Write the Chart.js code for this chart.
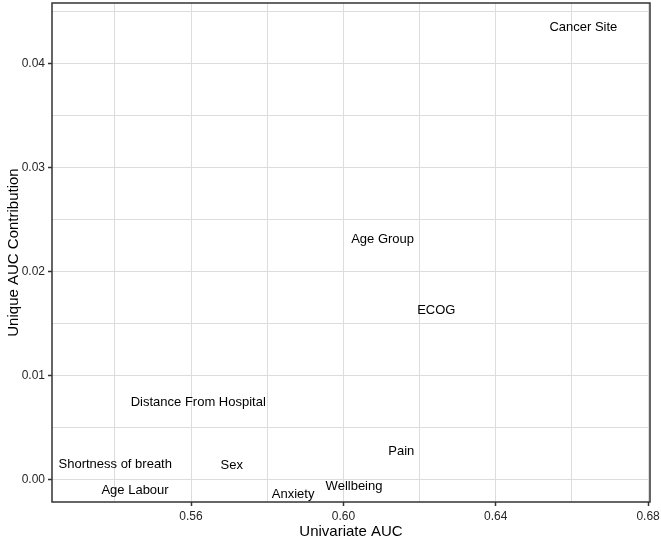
<!DOCTYPE html>
<html>
<head>
<meta charset="utf-8">
<script src="https://cdn.jsdelivr.net/npm/chart.js@4/dist/chart.umd.min.js"></script>
<style>
  html, body { margin: 0; padding: 0; background: #ffffff; }
  #wrap { width: 661px; height: 539px; }
</style>
</head>
<body>
<div id="wrap"><canvas id="c" width="661" height="539"></canvas></div>
<script>
// ---- data ----
const variables = ["Cancer Site", "Age Group", "ECOG", "Distance From Hospital", "Pain",
                   "Shortness of breath", "Sex", "Wellbeing", "Age Labour", "Anxiety"];
const univariateAUC = [0.663, 0.6103, 0.6244, 0.5619, 0.6152,
                       0.5401, 0.5707, 0.6028, 0.5453, 0.5868];
const uniqueContribution = [0.0436, 0.0232, 0.01635, 0.0075, 0.00279,
                            0.00154, 0.0015, -0.00055, -0.0009, -0.00129];

const xTickValues = [0.54, 0.56, 0.58, 0.60, 0.62, 0.64, 0.66, 0.68];
const xTickLabels = ["", "0.56", "", "0.60", "", "0.64", "", "0.68"];
const yTickValues = [0.000, 0.005, 0.010, 0.015, 0.020, 0.025, 0.030, 0.035, 0.040, 0.045];
const yTickLabels = ["0.00", "", "0.01", "", "0.02", "", "0.03", "", "0.04", ""];

const xRange = [0.5235, 0.6805];
const yRange = [-0.00218, 0.0458];

const points = univariateAUC.map((x, i) => ({ x: x, y: uniqueContribution[i] }));

const FONT = "'Liberation Sans', Arial, Helvetica, sans-serif";
const GRID = '#dcdcdc';
const AXIS = '#333333';

const textLabels = {
  id: 'textLabels',
  afterDatasetsDraw(chart) {
    const ctx = chart.ctx;
    const xs = chart.scales.x, ys = chart.scales.y;
    ctx.save();
    ctx.font = '13px ' + FONT;
    ctx.fillStyle = '#000000';
    ctx.textAlign = 'center';
    ctx.textBaseline = 'middle';
    chart.data.datasets[0].data.forEach((p, i) => {
      ctx.fillText(variables[i], xs.getPixelForValue(p.x), ys.getPixelForValue(p.y) + 1.5);
    });
    ctx.restore();
  }
};

const frame = {
  id: 'frame',
  afterDraw(chart) {
    const a = chart.chartArea, ctx = chart.ctx;
    ctx.save();
    ctx.strokeStyle = AXIS;
    ctx.lineWidth = 1.5;
    ctx.strokeRect(a.left, a.top, a.right - a.left, a.bottom - a.top);
    ctx.restore();
  }
};

function setTicks(values) {
  return function (scale) {
    scale.ticks = values.map(v => ({ value: v }));
  };
}

new Chart(document.getElementById('c'), {
  type: 'scatter',
  data: {
    datasets: [{
      data: points,
      pointRadius: 0,
      pointHoverRadius: 0,
      showLine: false
    }]
  },
  options: {
    responsive: false,
    animation: false,
    events: [],
    layout: { padding: { top: 3, right: 11, left: 0, bottom: 0 } },
    plugins: { legend: { display: false }, tooltip: { enabled: false } },
    scales: {
      x: {
        type: 'linear',
        min: xRange[0],
        max: xRange[1],
        afterBuildTicks: setTicks(xTickValues),
        afterFit(scale) { scale.height = 37; scale.paddingLeft = 0; scale.paddingRight = 0; },
        grid: {
          color: GRID,
          lineWidth: 1,
          tickLength: 4,
          tickWidth: 1.5,
          tickColor: (c) => (c.tick && xTickLabels[xTickValues.indexOf(c.tick.value)] !== '' ? AXIS : 'rgba(0,0,0,0)')
        },
        border: { display: false },
        ticks: {
          autoSkip: false,
          maxRotation: 0,
          padding: 3,
          color: '#262626',
          font: { family: FONT, size: 12 },
          callback: (v, i) => xTickLabels[i]
        },
        title: {
          display: true,
          text: 'Univariate AUC',
          color: '#000000',
          font: { family: FONT, size: 15 },
          padding: { top: 0, bottom: -2 }
        }
      },
      y: {
        type: 'linear',
        min: yRange[0],
        max: yRange[1],
        afterBuildTicks: setTicks(yTickValues),
        afterFit(scale) { scale.width = 52; scale.paddingTop = 0; scale.paddingBottom = 0; },
        grid: {
          color: GRID,
          lineWidth: 1,
          tickLength: 4,
          tickWidth: 1.5,
          tickColor: (c) => (c.tick && yTickLabels[yTickValues.indexOf(c.tick.value)] !== '' ? AXIS : 'rgba(0,0,0,0)')
        },
        border: { display: false },
        ticks: {
          autoSkip: false,
          padding: 3,
          color: '#262626',
          font: { family: FONT, size: 12 },
          callback: (v, i) => yTickLabels[i]
        },
        title: {
          display: true,
          text: 'Unique AUC Contribution',
          color: '#000000',
          font: { family: FONT, size: 15 },
          padding: { top: 5, bottom: 0 }
        }
      }
    }
  },
  plugins: [textLabels, frame]
});
</script>
</body>
</html>
